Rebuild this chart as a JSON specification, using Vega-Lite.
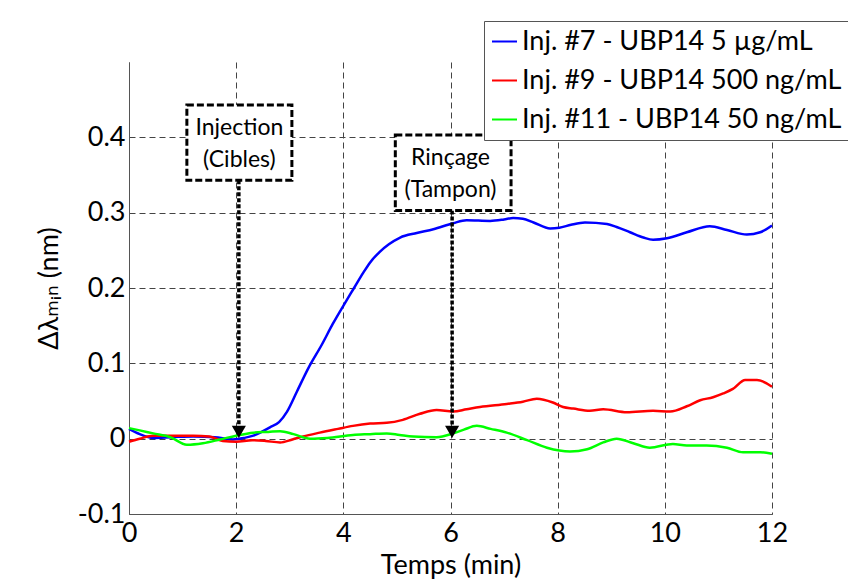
{
  "$schema": "https://vega.github.io/schema/vega-lite/v6.json",
  "width": 643,
  "height": 452,
  "autosize": {"type": "none"},
  "padding": {"left": 129, "top": 62, "right": 76, "bottom": 71},
  "background": "white",
  "config": {
    "font": "Lato",
    "view": {"stroke": null},
    "axis": {
      "labelFont": "Lato",
      "titleFont": "Lato, DejaVu Sans",
      "labelFontSize": 27,
      "titleFontSize": 27,
      "labelColor": "#000",
      "titleColor": "#000",
      "titleFontWeight": "normal",
      "domainColor": "#555",
      "domainWidth": 1,
      "ticks": false,
      "grid": true,
      "gridColor": "#444",
      "gridDash": [6, 4],
      "gridWidth": 1,
      "gridOpacity": 1
    },
    "legend": {
      "labelFont": "Lato",
      "labelFontSize": 27,
      "labelColor": "#000"
    }
  },
  "datasets": {
    "curves": [
      {"t": 0.0, "v": 0.013, "s": "Inj. #7 - UBP14 5 µg/mL"},
      {"t": 0.2, "v": 0.006, "s": "Inj. #7 - UBP14 5 µg/mL"},
      {"t": 0.45, "v": 0.001, "s": "Inj. #7 - UBP14 5 µg/mL"},
      {"t": 0.8, "v": 0.002, "s": "Inj. #7 - UBP14 5 µg/mL"},
      {"t": 1.2, "v": 0.003, "s": "Inj. #7 - UBP14 5 µg/mL"},
      {"t": 1.6, "v": 0.002, "s": "Inj. #7 - UBP14 5 µg/mL"},
      {"t": 1.94, "v": -0.001, "s": "Inj. #7 - UBP14 5 µg/mL"},
      {"t": 2.15, "v": 0.001, "s": "Inj. #7 - UBP14 5 µg/mL"},
      {"t": 2.32, "v": 0.004, "s": "Inj. #7 - UBP14 5 µg/mL"},
      {"t": 2.5, "v": 0.01, "s": "Inj. #7 - UBP14 5 µg/mL"},
      {"t": 2.63, "v": 0.015, "s": "Inj. #7 - UBP14 5 µg/mL"},
      {"t": 2.8, "v": 0.022, "s": "Inj. #7 - UBP14 5 µg/mL"},
      {"t": 2.95, "v": 0.036, "s": "Inj. #7 - UBP14 5 µg/mL"},
      {"t": 3.13, "v": 0.062, "s": "Inj. #7 - UBP14 5 µg/mL"},
      {"t": 3.35, "v": 0.094, "s": "Inj. #7 - UBP14 5 µg/mL"},
      {"t": 3.6, "v": 0.125, "s": "Inj. #7 - UBP14 5 µg/mL"},
      {"t": 3.8, "v": 0.152, "s": "Inj. #7 - UBP14 5 µg/mL"},
      {"t": 4.03, "v": 0.18, "s": "Inj. #7 - UBP14 5 µg/mL"},
      {"t": 4.2, "v": 0.2, "s": "Inj. #7 - UBP14 5 µg/mL"},
      {"t": 4.37, "v": 0.22, "s": "Inj. #7 - UBP14 5 µg/mL"},
      {"t": 4.5, "v": 0.234, "s": "Inj. #7 - UBP14 5 µg/mL"},
      {"t": 4.68, "v": 0.248, "s": "Inj. #7 - UBP14 5 µg/mL"},
      {"t": 4.85, "v": 0.258, "s": "Inj. #7 - UBP14 5 µg/mL"},
      {"t": 5.06, "v": 0.267, "s": "Inj. #7 - UBP14 5 µg/mL"},
      {"t": 5.37, "v": 0.273, "s": "Inj. #7 - UBP14 5 µg/mL"},
      {"t": 5.68, "v": 0.278, "s": "Inj. #7 - UBP14 5 µg/mL"},
      {"t": 6.05, "v": 0.286, "s": "Inj. #7 - UBP14 5 µg/mL"},
      {"t": 6.3, "v": 0.29, "s": "Inj. #7 - UBP14 5 µg/mL"},
      {"t": 6.74, "v": 0.289, "s": "Inj. #7 - UBP14 5 µg/mL"},
      {"t": 7.0, "v": 0.291, "s": "Inj. #7 - UBP14 5 µg/mL"},
      {"t": 7.17, "v": 0.293, "s": "Inj. #7 - UBP14 5 µg/mL"},
      {"t": 7.35, "v": 0.292, "s": "Inj. #7 - UBP14 5 µg/mL"},
      {"t": 7.55, "v": 0.287, "s": "Inj. #7 - UBP14 5 µg/mL"},
      {"t": 7.86, "v": 0.279, "s": "Inj. #7 - UBP14 5 µg/mL"},
      {"t": 8.03, "v": 0.28, "s": "Inj. #7 - UBP14 5 µg/mL"},
      {"t": 8.25, "v": 0.284, "s": "Inj. #7 - UBP14 5 µg/mL"},
      {"t": 8.51, "v": 0.287, "s": "Inj. #7 - UBP14 5 µg/mL"},
      {"t": 8.92, "v": 0.285, "s": "Inj. #7 - UBP14 5 µg/mL"},
      {"t": 9.1, "v": 0.281, "s": "Inj. #7 - UBP14 5 µg/mL"},
      {"t": 9.35, "v": 0.274, "s": "Inj. #7 - UBP14 5 µg/mL"},
      {"t": 9.6, "v": 0.267, "s": "Inj. #7 - UBP14 5 µg/mL"},
      {"t": 9.78, "v": 0.264, "s": "Inj. #7 - UBP14 5 µg/mL"},
      {"t": 10.04, "v": 0.266, "s": "Inj. #7 - UBP14 5 µg/mL"},
      {"t": 10.41, "v": 0.274, "s": "Inj. #7 - UBP14 5 µg/mL"},
      {"t": 10.84, "v": 0.282, "s": "Inj. #7 - UBP14 5 µg/mL"},
      {"t": 11.16, "v": 0.277, "s": "Inj. #7 - UBP14 5 µg/mL"},
      {"t": 11.53, "v": 0.271, "s": "Inj. #7 - UBP14 5 µg/mL"},
      {"t": 11.78, "v": 0.274, "s": "Inj. #7 - UBP14 5 µg/mL"},
      {"t": 12.0, "v": 0.283, "s": "Inj. #7 - UBP14 5 µg/mL"},

      {"t": 0.0, "v": -0.004, "s": "Inj. #9 - UBP14 500 ng/mL"},
      {"t": 0.2, "v": 0.0, "s": "Inj. #9 - UBP14 500 ng/mL"},
      {"t": 0.45, "v": 0.004, "s": "Inj. #9 - UBP14 500 ng/mL"},
      {"t": 0.8, "v": 0.004, "s": "Inj. #9 - UBP14 500 ng/mL"},
      {"t": 1.2, "v": 0.004, "s": "Inj. #9 - UBP14 500 ng/mL"},
      {"t": 1.5, "v": 0.003, "s": "Inj. #9 - UBP14 500 ng/mL"},
      {"t": 1.75, "v": -0.003, "s": "Inj. #9 - UBP14 500 ng/mL"},
      {"t": 2.0, "v": -0.004, "s": "Inj. #9 - UBP14 500 ng/mL"},
      {"t": 2.3, "v": -0.002, "s": "Inj. #9 - UBP14 500 ng/mL"},
      {"t": 2.55, "v": -0.003, "s": "Inj. #9 - UBP14 500 ng/mL"},
      {"t": 2.82, "v": -0.005, "s": "Inj. #9 - UBP14 500 ng/mL"},
      {"t": 3.05, "v": -0.001, "s": "Inj. #9 - UBP14 500 ng/mL"},
      {"t": 3.25, "v": 0.003, "s": "Inj. #9 - UBP14 500 ng/mL"},
      {"t": 3.56, "v": 0.008, "s": "Inj. #9 - UBP14 500 ng/mL"},
      {"t": 3.9, "v": 0.013, "s": "Inj. #9 - UBP14 500 ng/mL"},
      {"t": 4.18, "v": 0.017, "s": "Inj. #9 - UBP14 500 ng/mL"},
      {"t": 4.5, "v": 0.02, "s": "Inj. #9 - UBP14 500 ng/mL"},
      {"t": 4.81, "v": 0.021, "s": "Inj. #9 - UBP14 500 ng/mL"},
      {"t": 5.11, "v": 0.025, "s": "Inj. #9 - UBP14 500 ng/mL"},
      {"t": 5.43, "v": 0.033, "s": "Inj. #9 - UBP14 500 ng/mL"},
      {"t": 5.74, "v": 0.038, "s": "Inj. #9 - UBP14 500 ng/mL"},
      {"t": 6.05, "v": 0.036, "s": "Inj. #9 - UBP14 500 ng/mL"},
      {"t": 6.3, "v": 0.039, "s": "Inj. #9 - UBP14 500 ng/mL"},
      {"t": 6.55, "v": 0.042, "s": "Inj. #9 - UBP14 500 ng/mL"},
      {"t": 7.05, "v": 0.046, "s": "Inj. #9 - UBP14 500 ng/mL"},
      {"t": 7.35, "v": 0.049, "s": "Inj. #9 - UBP14 500 ng/mL"},
      {"t": 7.61, "v": 0.053, "s": "Inj. #9 - UBP14 500 ng/mL"},
      {"t": 7.91, "v": 0.048, "s": "Inj. #9 - UBP14 500 ng/mL"},
      {"t": 8.1, "v": 0.042, "s": "Inj. #9 - UBP14 500 ng/mL"},
      {"t": 8.29, "v": 0.04, "s": "Inj. #9 - UBP14 500 ng/mL"},
      {"t": 8.6, "v": 0.037, "s": "Inj. #9 - UBP14 500 ng/mL"},
      {"t": 8.85, "v": 0.039, "s": "Inj. #9 - UBP14 500 ng/mL"},
      {"t": 9.29, "v": 0.035, "s": "Inj. #9 - UBP14 500 ng/mL"},
      {"t": 9.78, "v": 0.037, "s": "Inj. #9 - UBP14 500 ng/mL"},
      {"t": 10.1, "v": 0.036, "s": "Inj. #9 - UBP14 500 ng/mL"},
      {"t": 10.41, "v": 0.043, "s": "Inj. #9 - UBP14 500 ng/mL"},
      {"t": 10.66, "v": 0.051, "s": "Inj. #9 - UBP14 500 ng/mL"},
      {"t": 10.9, "v": 0.055, "s": "Inj. #9 - UBP14 500 ng/mL"},
      {"t": 11.09, "v": 0.06, "s": "Inj. #9 - UBP14 500 ng/mL"},
      {"t": 11.27, "v": 0.066, "s": "Inj. #9 - UBP14 500 ng/mL"},
      {"t": 11.5, "v": 0.078, "s": "Inj. #9 - UBP14 500 ng/mL"},
      {"t": 11.72, "v": 0.078, "s": "Inj. #9 - UBP14 500 ng/mL"},
      {"t": 12.0, "v": 0.069, "s": "Inj. #9 - UBP14 500 ng/mL"},

      {"t": 0.0, "v": 0.014, "s": "Inj. #11 - UBP14 50 ng/mL"},
      {"t": 0.2, "v": 0.011, "s": "Inj. #11 - UBP14 50 ng/mL"},
      {"t": 0.45, "v": 0.007, "s": "Inj. #11 - UBP14 50 ng/mL"},
      {"t": 0.77, "v": 0.002, "s": "Inj. #11 - UBP14 50 ng/mL"},
      {"t": 1.08, "v": -0.008, "s": "Inj. #11 - UBP14 50 ng/mL"},
      {"t": 1.38, "v": -0.006, "s": "Inj. #11 - UBP14 50 ng/mL"},
      {"t": 1.7, "v": -0.001, "s": "Inj. #11 - UBP14 50 ng/mL"},
      {"t": 2.0, "v": 0.004, "s": "Inj. #11 - UBP14 50 ng/mL"},
      {"t": 2.32, "v": 0.008, "s": "Inj. #11 - UBP14 50 ng/mL"},
      {"t": 2.6, "v": 0.009, "s": "Inj. #11 - UBP14 50 ng/mL"},
      {"t": 2.82, "v": 0.01, "s": "Inj. #11 - UBP14 50 ng/mL"},
      {"t": 3.07, "v": 0.006, "s": "Inj. #11 - UBP14 50 ng/mL"},
      {"t": 3.38, "v": 0.0, "s": "Inj. #11 - UBP14 50 ng/mL"},
      {"t": 3.7, "v": 0.001, "s": "Inj. #11 - UBP14 50 ng/mL"},
      {"t": 4.18, "v": 0.005, "s": "Inj. #11 - UBP14 50 ng/mL"},
      {"t": 4.5, "v": 0.006, "s": "Inj. #11 - UBP14 50 ng/mL"},
      {"t": 4.81, "v": 0.007, "s": "Inj. #11 - UBP14 50 ng/mL"},
      {"t": 5.05, "v": 0.005, "s": "Inj. #11 - UBP14 50 ng/mL"},
      {"t": 5.3, "v": 0.003, "s": "Inj. #11 - UBP14 50 ng/mL"},
      {"t": 5.74, "v": 0.002, "s": "Inj. #11 - UBP14 50 ng/mL"},
      {"t": 6.05, "v": 0.007, "s": "Inj. #11 - UBP14 50 ng/mL"},
      {"t": 6.25, "v": 0.012, "s": "Inj. #11 - UBP14 50 ng/mL"},
      {"t": 6.49, "v": 0.017, "s": "Inj. #11 - UBP14 50 ng/mL"},
      {"t": 6.75, "v": 0.013, "s": "Inj. #11 - UBP14 50 ng/mL"},
      {"t": 7.05, "v": 0.008, "s": "Inj. #11 - UBP14 50 ng/mL"},
      {"t": 7.43, "v": -0.002, "s": "Inj. #11 - UBP14 50 ng/mL"},
      {"t": 7.8, "v": -0.012, "s": "Inj. #11 - UBP14 50 ng/mL"},
      {"t": 8.23, "v": -0.017, "s": "Inj. #11 - UBP14 50 ng/mL"},
      {"t": 8.55, "v": -0.014, "s": "Inj. #11 - UBP14 50 ng/mL"},
      {"t": 8.85, "v": -0.005, "s": "Inj. #11 - UBP14 50 ng/mL"},
      {"t": 9.1, "v": 0.0, "s": "Inj. #11 - UBP14 50 ng/mL"},
      {"t": 9.41, "v": -0.006, "s": "Inj. #11 - UBP14 50 ng/mL"},
      {"t": 9.72, "v": -0.012, "s": "Inj. #11 - UBP14 50 ng/mL"},
      {"t": 10.15, "v": -0.007, "s": "Inj. #11 - UBP14 50 ng/mL"},
      {"t": 10.41, "v": -0.009, "s": "Inj. #11 - UBP14 50 ng/mL"},
      {"t": 10.78, "v": -0.009, "s": "Inj. #11 - UBP14 50 ng/mL"},
      {"t": 11.16, "v": -0.012, "s": "Inj. #11 - UBP14 50 ng/mL"},
      {"t": 11.46, "v": -0.018, "s": "Inj. #11 - UBP14 50 ng/mL"},
      {"t": 11.78, "v": -0.018, "s": "Inj. #11 - UBP14 50 ng/mL"},
      {"t": 12.0, "v": -0.02, "s": "Inj. #11 - UBP14 50 ng/mL"}
    ],
    "notes": [
      {"label": "Injection\n(Cibles)", "tx": 2.06, "ty": 0.412, "bx1": 1.08, "bx2": 3.04, "by1": 0.443, "by2": 0.343, "ax": 2.05, "atop": 0.343, "abot": 0.012, "head": 0.009},
      {"label": "Rinçage\n(Tampon)", "tx": 6.0, "ty": 0.372, "bx1": 4.97, "bx2": 7.13, "by1": 0.403, "by2": 0.303, "ax": 6.03, "atop": 0.303, "abot": 0.012, "head": 0.009}
    ]
  },
  "layer": [
    {
      "mark": {"type": "rule", "color": "#9a9a9a", "strokeDash": [5, 3], "strokeWidth": 2},
      "encoding": {"y": {"datum": 0, "type": "quantitative"}}
    },
    {
      "mark": {"type": "rule", "color": "#9a9a9a", "strokeDash": [5, 3], "strokeWidth": 2},
      "encoding": {"x": {"datum": 12, "type": "quantitative"}}
    },
    {
      "data": {"name": "curves"},
      "mark": {"type": "line", "strokeWidth": 2.5, "interpolate": "monotone"},
      "encoding": {
        "x": {
          "field": "t", "type": "quantitative",
          "scale": {"domain": [0, 12], "nice": false},
          "axis": {"title": "Temps (min)", "values": [0, 2, 4, 6, 8, 10, 12], "format": "d", "labelPadding": 6, "titlePadding": 6, "labelFlush": false}
        },
        "y": {
          "field": "v", "type": "quantitative",
          "scale": {"domain": [-0.1, 0.5], "nice": false, "zero": false},
          "axis": {
            "title": "Δλₘᵢₙ (nm)",
            "values": [-0.1, 0, 0.1, 0.2, 0.3, 0.4],
            "labelExpr": "replace(format(datum.value, '.1~f'), '\u2212', '-')",
            "labelPadding": 4,
            "titlePadding": 14,
            "labelFlush": false
          }
        },
        "color": {
          "field": "s", "type": "nominal",
          "scale": {
            "domain": ["Inj. #7 - UBP14 5 µg/mL", "Inj. #9 - UBP14 500 ng/mL", "Inj. #11 - UBP14 50 ng/mL"],
            "range": ["#0000ff", "#ff0000", "#00ff00"]
          },
          "legend": {
            "title": null,
            "orient": "none",
            "legendX": 355,
            "legendY": -41,
            "strokeColor": "#555",
            "fillColor": "white",
            "padding": 7,
            "symbolType": "stroke",
            "symbolSize": 625,
            "symbolStrokeWidth": 2,
            "labelOffset": 4,
            "rowPadding": 11,
            "labelLimit": 400
          }
        }
      }
    },
    {
      "data": {"name": "notes"},
      "mark": {"type": "rule", "color": "black", "strokeDash": [4, 2], "strokeWidth": 3.5},
      "encoding": {
        "x": {"field": "ax", "type": "quantitative"},
        "y": {"field": "atop", "type": "quantitative"},
        "y2": {"field": "abot"}
      }
    },
    {
      "data": {"name": "notes"},
      "mark": {"type": "point", "shape": "triangle-down", "filled": true, "color": "black", "size": 200, "opacity": 1},
      "encoding": {
        "x": {"field": "ax", "type": "quantitative"},
        "y": {"field": "head", "type": "quantitative"}
      }
    },
    {
      "data": {"name": "notes"},
      "mark": {"type": "rect", "fill": "white", "stroke": "black", "strokeWidth": 3, "strokeDash": [7, 3]},
      "encoding": {
        "x": {"field": "bx1", "type": "quantitative"},
        "x2": {"field": "bx2"},
        "y": {"field": "by1", "type": "quantitative"},
        "y2": {"field": "by2"}
      }
    },
    {
      "data": {"name": "notes"},
      "mark": {"type": "text", "font": "Lato", "fontSize": 23, "lineBreak": "\n", "lineHeight": 32, "align": "center", "baseline": "middle", "color": "black"},
      "encoding": {
        "x": {"field": "tx", "type": "quantitative"},
        "y": {"field": "ty", "type": "quantitative"},
        "text": {"field": "label"}
      }
    }
  ]
}
